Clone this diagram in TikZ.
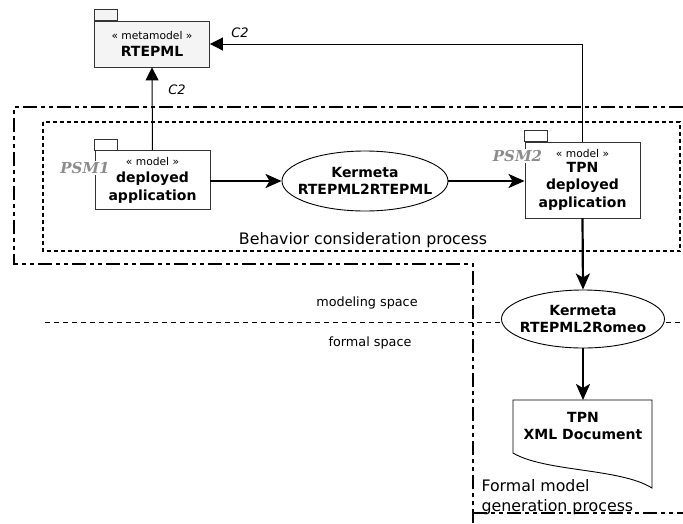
\documentclass[tikz,border=0pt]{standalone}
\usepackage{fontspec}
\setmainfont{DejaVu Sans}
\newfontfamily\psmfont{DejaVu Serif}
\usetikzlibrary{arrows.meta,shapes.geometric}
\definecolor{pkgfill}{HTML}{F4F4F4}
\definecolor{psmgray}{HTML}{8C8C8C}
\tikzset{
  pkg/.style={draw=black!80, line width=0.9pt, minimum width=115pt, align=center, inner sep=0pt,
              font=\bfseries\fontsize{14}{17.5}\selectfont},
  pkgtab/.style={draw=black!80, line width=0.9pt},
  proc/.style={ellipse, draw, line width=0.9pt, fill=white, inner sep=0pt},
  proctext/.style={align=center, font=\bfseries\fontsize{14}{17}\selectfont},
  bigarrow/.style={line width=2.2pt, -{Stealth[length=16pt,width=14pt,inset=4pt]}},
  smallarrow/.style={line width=1pt, -{Triangle[length=13pt,width=13pt]}},
  outerline/.style={line width=2.2pt, dash pattern=on 14pt off 4pt on 4pt off 4pt on 4pt off 4pt},
  innerline/.style={line width=2pt, dash pattern=on 4pt off 3pt},
  spaceline/.style={line width=0.8pt, dash pattern=on 5pt off 4pt},
  psm/.style={font=\psmfont\bfseries\itshape\fontsize{15}{18}\selectfont, text=psmgray,
              fill=white, inner sep=1pt},
  clabel/.style={font=\itshape\fontsize{13}{15}\selectfont},
  regionlabel/.style={font=\fontsize{15.8}{20}\selectfont},
  spacelabel/.style={font=\fontsize{12.8}{15}\selectfont},
}
\newcommand{\stereotype}[1]{{\mdseries\fontsize{10.7}{13}\selectfont #1}}
\begin{document}
\begin{tikzpicture}[x=1pt,y=-1pt]
\useasboundingbox (0,0) rectangle (683,523);

% region boundaries
\draw[outerline] (683,107) -- (14,107) -- (14,264) -- (473,264) -- (473,523);
\draw[outerline] (473,513) -- (683,513);
\draw[innerline] (43,121.5) rectangle (680,251);
\draw[spaceline] (45,322) -- (683,322);

% metamodel package
\node[pkg, fill=pkgfill, minimum height=46pt] (rtepml) at (152,44)
  {\stereotype{« metamodel »}\\[-1pt]RTEPML};
\draw[pkgtab, fill=pkgfill] (rtepml.north west) rectangle ++(23,-11);

% PSM1 package
\node[pkg, minimum height=59pt] (psm1box) at (152.5,180)
  {\stereotype{« model »}\\deployed\\application};
\draw[pkgtab] (psm1box.north west) rectangle ++(23,-11);
\node[psm] (psm1) at (85,168) {PSM1};

% PSM2 package
\node[pkg, minimum height=76pt] (tpnbox) at (582.5,180)
  {\stereotype{« model »}\\[-3pt]TPN\\deployed\\application};
\draw[pkgtab] (tpnbox.north west) rectangle ++(23,-11);
\node[psm] (psm2) at (517.5,156) {PSM2};

% transformations
\node[proc, minimum width=166pt, minimum height=60pt,
      label={[proctext]center:Kermeta\\RTEPML2RTEPML}] (e1) at (365,181) {};
\node[proc, minimum width=163pt, minimum height=58pt,
      label={[proctext]center:Kermeta\\RTEPML2Romeo}] (e2) at (583,319) {};

% TPN XML document
\draw[line width=0.9pt, fill=white] (513,400) -- (652,400) -- (652,488)
  .. controls (620,468) and (545,472) .. (513,453) -- cycle;
\coordinate (doctop) at (583,400);
\node[proctext] (doc) at (583,426) {TPN\\XML Document};

% connectors
\draw[smallarrow] (psm1box.north) -- (rtepml.south);
\draw[smallarrow] (tpnbox.north) |- (rtepml.east);
\node[clabel] (c2a) at (240,33) {C2};
\node[clabel] (c2b) at (177,90) {C2};
\draw[bigarrow] (e1.west -| psm1box.east) -- (e1.west);
\draw[bigarrow] (e1.east) -- (e1.east -| tpnbox.west);
\draw[bigarrow] (tpnbox.south) -- (e2.north);
\draw[bigarrow] (e2.south) -- (doctop);

% labels
\node[regionlabel] (behav) at (363,240) {Behavior consideration process};
\node[spacelabel] (mspace) at (367,303) {modeling space};
\node[spacelabel] (fspace) at (370,343) {formal space};
\node[regionlabel, align=left, anchor=west] (formal) at (478,497) {Formal model\\generation process};
\end{tikzpicture}
\end{document}
